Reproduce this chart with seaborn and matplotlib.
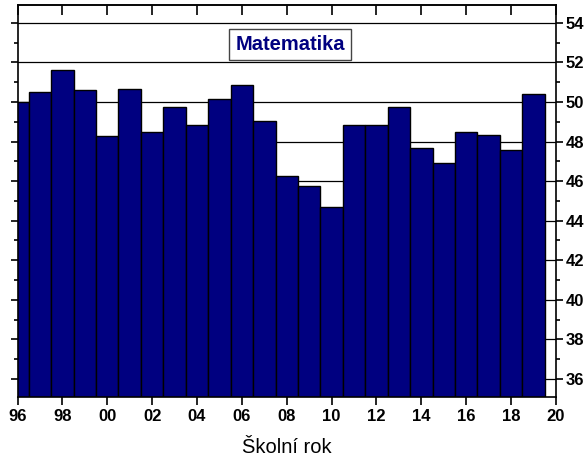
import numpy as np
import pandas as pd
import seaborn as sns
import matplotlib.pyplot as plt
from matplotlib.ticker import MultipleLocator

# School years (start year) and average scores
years = list(range(1996, 2020))
scores = [50.0, 50.5, 51.6, 50.6, 48.3, 50.65, 48.5, 49.75, 48.85, 50.15, 50.85, 49.05,
          46.25, 45.75, 44.7, 48.85, 48.85, 49.75, 47.65, 46.9, 48.5, 48.35, 47.55, 50.4]
tick_years = list(range(1996, 2021, 2))
tick_labels = [f"{y % 100:02d}" for y in tick_years]
y_ticks = list(range(36, 55, 2))

df = pd.DataFrame({'rok': years, 'skore': scores})

sns.set_style('white')
plt.rcParams['font.family'] = ['Liberation Sans', 'DejaVu Sans']
plt.rcParams['text.color'] = 'black'
plt.rcParams['xtick.color'] = 'black'
plt.rcParams['ytick.color'] = 'black'
plt.rcParams['axes.labelcolor'] = 'black'

fig = plt.figure(figsize=(5.84, 4.63), dpi=100)
ax = fig.add_axes([0.030, 0.1432, 0.922, 0.846])

# gridlines behind bars
ax.set_axisbelow(True)
ax.yaxis.grid(True, which='major', color='black', linewidth=0.9)

sns.barplot(data=df, x='rok', y='skore', native_scale=True, width=1.0,
            color='#000080', saturation=1, edgecolor='black', linewidth=1.0, ax=ax)

ax.set_xlim(1996, 2020)
ax.set_ylim(35.1, 54.9)
ax.set_xticks(tick_years)
ax.set_xticklabels(tick_labels, fontweight='bold', fontsize=12)
ax.set_yticks(y_ticks)
ax.set_yticklabels([str(v) for v in y_ticks], fontweight='bold', fontsize=12)
ax.yaxis.set_minor_locator(MultipleLocator(1))

ax.tick_params(axis='y', which='both', left=True, right=True, labelleft=False,
               labelright=True, direction='out', width=1.2, pad=2)
ax.tick_params(axis='y', which='major', length=5)
ax.tick_params(axis='y', which='minor', length=3)
ax.tick_params(axis='x', which='major', bottom=True, direction='out', length=6,
               width=1.2, pad=3)

top = ax.secondary_xaxis('top')
top.set_xticks(tick_years)
top.tick_params(axis='x', direction='in', length=7, width=1.2, labeltop=False)

for s in ax.spines.values():
    s.set_color('black')
    s.set_linewidth(1.2)
top.spines['top'].set_linewidth(1.2)

ax.set_xlabel('Školní rok', fontsize=14.5, labelpad=10)
ax.set_ylabel('')

ax.text(0.506, 0.900, 'Matematika', transform=ax.transAxes, ha='center', va='center',
        fontsize=14.5, fontweight='bold', color='#000080',
        bbox=dict(boxstyle='square,pad=0.3', facecolor='white', edgecolor='#444444', linewidth=1))

fig.savefig('out.png', dpi=100)
